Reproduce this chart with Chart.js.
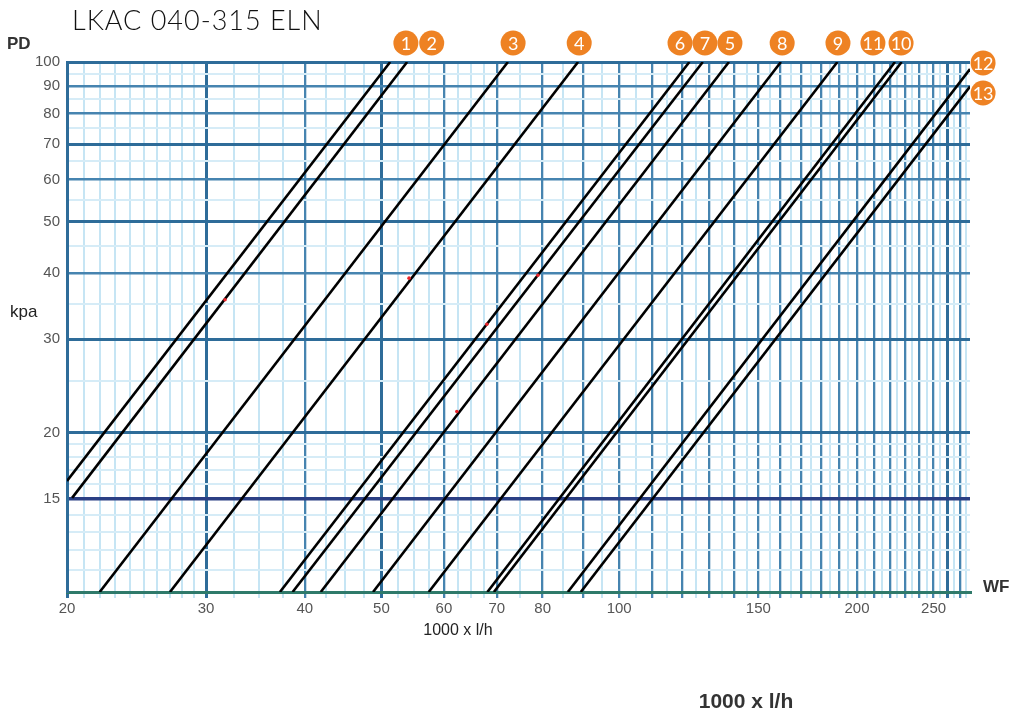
<!DOCTYPE html>
<html>
<head>
<meta charset="utf-8">
<script src="https://cdn.jsdelivr.net/npm/chart.js@4.4.1/dist/chart.umd.min.js"></script>
<style>
html,body{margin:0;padding:0;background:#fff;}
canvas{display:block;}
</style>
</head>
<body>
<canvas id="c" width="1010" height="715" style="width:1010px;height:715px"></canvas>
<script>
// ---- Data (flow in 1000 x l/h, pressure drop in kPa) ----
const curveIds   = ['1','2','3','4','5','6','7','8','9','10','11','12','13'];
const startFlow  = [20.0, 20.3, 22.0, 27.0, 41.9, 37.2, 38.6, 48.8, 57.4, 69.4, 68.1, 86.1, 89.4];
const startPD    = [16.2, 15.05, 10, 10, 10, 10, 10, 10, 10, 10, 10, 10, 10];
const endFlow    = [51.3, 53.9, 72.3, 88.7, 137.7, 122.7, 127.6, 160.2, 188.9, 227.8, 223.4, 278, 278];
const endPD      = [100, 100, 100, 100, 100, 100, 100, 100, 100, 100, 100, 97.0, 89.9];

// numbered badges (flow / pressure where each label sits)
const badgeFlow  = [53.7, 57.9, 73.4, 89.0, 138.1, 119.4, 128.4, 160.8, 189.2, 227.4, 209.5, 288.8, 288.8];
const badgePD    = [108.6, 108.6, 108.6, 108.6, 108.6, 108.6, 108.6, 108.6, 108.6, 108.6, 108.6, 99.6, 87.4];

// small red dots
const dotFlow    = [31.7, 54.2, 78.9, 68.0, 62.3];
const dotPD      = [35.6, 39.1, 39.6, 32.0, 21.9];

// tick labels
const xTickLabels = [20, 30, 40, 50, 60, 70, 80, 100, 150, 200, 250];
const yTickLabels = [15, 20, 30, 40, 50, 60, 70, 80, 90, 100];

// grid lines
const xGridThick  = [20, 30, 50, 260];
const xGridMedium = [40, 60, 70, 80, 90, 100, 110, 120, 130, 140, 150, 160, 170, 180, 190, 200, 210, 220, 230, 240, 250, 270];
const xGridLight  = [21, 22, 23, 24, 25, 26, 27, 28, 29, 32.5, 35, 37.5, 42.5, 45, 47.5, 52.5, 55, 57.5, 62.5, 65, 67.5,
                     75, 85, 95, 105, 115, 125, 135, 145, 155, 165, 175, 185, 195, 205, 215, 225, 235, 245, 255, 265, 275];
const yGridThick  = [20, 30, 50, 70, 100];
const yGridDark   = [15];
const yGridMedium = [40, 60, 80, 90];
const yGridLight  = [11, 12, 13, 14, 16, 17, 18, 19, 25, 35, 45, 55, 65, 75, 85, 95];

// ---- helpers ----
const has = (arr, v) => arr.some(a => Math.abs(a - v) < 1e-6);
const C_THICK = '#2e6c99', C_MED = '#4684b0', C_LIGHT_X = '#c6e5f4', C_LIGHT_Y = '#d6ecf7', C_DARK = '#2b3f84';

function xGridColor(v){ if (has(xGridThick, v)) return C_THICK; if (has(xGridMedium, v)) return C_MED; return C_LIGHT_X; }
function xGridWidth(v){ if (has(xGridThick, v)) return 3; if (has(xGridMedium, v)) return 2.3; return 2; }
function yGridColor(v){ if (has(yGridDark, v)) return C_DARK; if (has(yGridThick, v)) return C_THICK; if (has(yGridMedium, v)) return C_MED; return C_LIGHT_Y; }
function yGridWidth(v){ if (has(yGridDark, v)) return 3.5; if (has(yGridThick, v)) return 3; if (has(yGridMedium, v)) return 2.5; return 2; }

const xGridAll = [...xGridThick, ...xGridMedium, ...xGridLight].sort((a,b)=>a-b);
const yGridAll = [10, ...yGridThick, ...yGridDark, ...yGridMedium, ...yGridLight].sort((a,b)=>a-b);

// ---- datasets ----
const datasets = curveIds.map((id, i) => ({
  label: 'Curve ' + id,
  data: [{x: startFlow[i], y: startPD[i]}, {x: endFlow[i], y: endPD[i]}],
  showLine: true,
  borderColor: '#000',
  borderWidth: 2.6,
  pointRadius: 0,
  fill: false,
  order: 2
}));
datasets.push({
  label: 'dots',
  data: dotFlow.map((f, i) => ({x: f, y: dotPD[i]})),
  pointRadius: 1.8,
  pointBackgroundColor: '#e8242a',
  pointBorderWidth: 0,
  showLine: false,
  order: 1
});
datasets.push({
  label: 'badges',
  data: badgeFlow.map((f, i) => ({x: f, y: badgePD[i]})),
  pointRadius: 0,
  showLine: false,
  clip: false,
  order: 0
});

const BADGE_R = 12.5;
const textPlugin = {
  id: 'texts',
  afterDatasetsDraw(chart) {
    const ctx = chart.ctx;
    ctx.save();
    // badges: positions come from the library's scales (element positions)
    const meta = chart.getDatasetMeta(chart.data.datasets.length - 1);
    meta.data.forEach((pt) => {
      ctx.beginPath();
      ctx.arc(pt.x, pt.y, BADGE_R, 0, Math.PI * 2);
      ctx.fillStyle = '#ee8223';
      ctx.fill();
    });
    ctx.fillStyle = '#ffffff';
    ctx.textAlign = 'center';
    ctx.textBaseline = 'middle';
    ctx.font = '18px Lato, "Liberation Sans", sans-serif';
    meta.data.forEach((pt, i) => { ctx.fillText(curveIds[i], pt.x, pt.y + 1); });
    // titles and axis texts
    ctx.textBaseline = 'middle';
    ctx.textAlign = 'left';
    ctx.fillStyle = '#111';
    ctx.font = '300 27px Lato, "Liberation Sans", sans-serif';
    try { ctx.letterSpacing = '1px'; } catch (e) {}
    ctx.fillText('LKAC 040-315 ELN', 72, 21);
    try { ctx.letterSpacing = '0px'; } catch (e) {}
    ctx.fillStyle = '#333';
    ctx.font = 'bold 17px "Liberation Sans", Arial, sans-serif';
    ctx.fillText('PD', 7, 44);
    ctx.fillStyle = '#222';
    ctx.font = '17px "Liberation Sans", Arial, sans-serif';
    ctx.fillText('kpa', 10, 312);
    ctx.fillStyle = '#333';
    ctx.font = 'bold 17px "Liberation Sans", Arial, sans-serif';
    ctx.fillText('WF', 983, 587);
    ctx.textAlign = 'center';
    ctx.fillStyle = '#222';
    ctx.font = '16px "Liberation Sans", Arial, sans-serif';
    ctx.fillText('1000 x l/h', 458, 631);
    ctx.fillStyle = '#333';
    ctx.font = 'bold 21px "Liberation Sans", Arial, sans-serif';
    ctx.fillText('1000 x l/h', 746, 702);
    ctx.restore();
  }
};

new Chart(document.getElementById('c'), {
  type: 'scatter',
  data: { datasets },
  options: {
    responsive: false,
    animation: false,
    devicePixelRatio: 1,
    layout: { padding: { top: 62, right: 40, bottom: 93, left: 0 } },
    plugins: { legend: { display: false }, tooltip: { enabled: false }, title: { display: false } },
    scales: {
      x: {
        type: 'logarithmic',
        position: 'bottom',
        min: 20, max: 278,
        afterBuildTicks: s => { s.ticks = xGridAll.map(v => ({value: v})); },
        afterFit: s => { s.height = 30; },
        ticks: {
          autoSkip: false, maxRotation: 0, minRotation: 0, padding: 2,
          color: '#555', font: { family: '"Liberation Sans", Arial, sans-serif', size: 15 },
          callback: v => has(xTickLabels, v) ? String(v) : ''
        },
        grid: {
          color: c => xGridColor(c.tick ? c.tick.value : 0),
          lineWidth: c => xGridWidth(c.tick ? c.tick.value : 0),
          drawTicks: true, tickLength: 6
        },
        border: { display: true, color: '#2f7a6a', width: 3 }
      },
      y: {
        type: 'logarithmic',
        position: 'left',
        min: 10, max: 100,
        afterBuildTicks: s => { s.ticks = yGridAll.map(v => ({value: v})); },
        afterFit: s => { s.width = 67; },
        ticks: {
          autoSkip: false, padding: 7,
          color: '#555', font: { family: '"Liberation Sans", Arial, sans-serif', size: 15 },
          callback: v => has(yTickLabels, v) ? String(v) : ''
        },
        grid: {
          color: c => yGridColor(c.tick ? c.tick.value : 0),
          lineWidth: c => yGridWidth(c.tick ? c.tick.value : 0),
          drawTicks: false
        },
        border: { display: true, color: C_THICK, width: 3 }
      }
    }
  },
  plugins: [textPlugin]
});
</script>
</body>
</html>
